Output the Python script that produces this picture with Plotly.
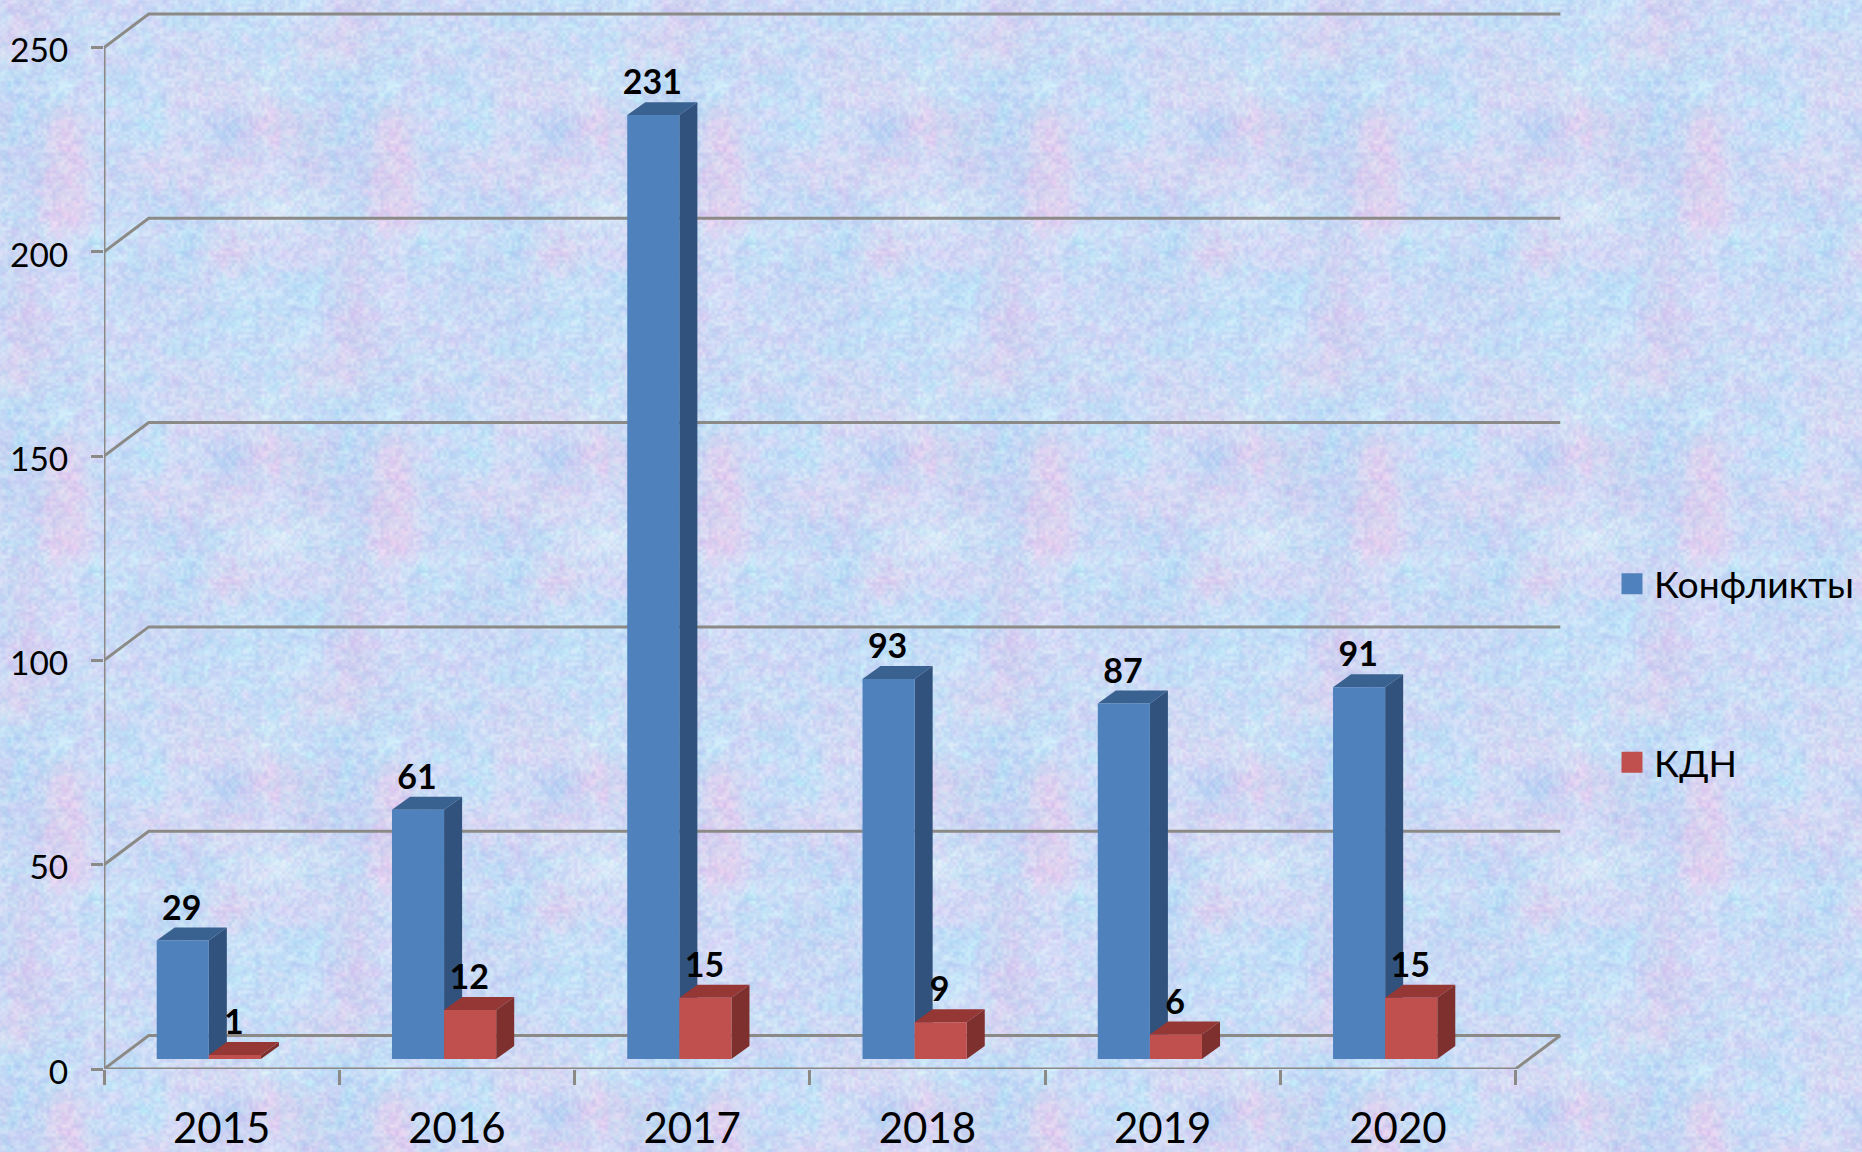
import base64
import struct
import zlib

import numpy as np
import plotly.graph_objects as go

years = ["2015", "2016", "2017", "2018", "2019", "2020"]
conflicts = [29, 61, 231, 93, 87, 91]
kdn = [1, 12, 15, 9, 6, 15]
y_ticks = [0, 50, 100, 150, 200, 250]

W, H = 1862, 1152
PLOT_L, PLOT_R, PLOT_T, PLOT_B = 103.8, 1564.0, 10.0, 1069.0
PX_CAT = 235.3
PX_UNIT = 4.086
GRID_DX, GRID_DY = 0.19, 8.2
BAR_DX, BAR_DY = 0.0766, 3.18
FLOOR = 2.45
BAR_W = 0.2215
BLUE_START = 0.224
GREY = "#8C8A86"
FONT = "Lato, 'Noto Sans', sans-serif"

# Pastel paper texture: colour grid read from one 328 px tile of the picture.
TILE_COLOURS = [
    "C6D2EE B0D4F4 E6C8EC C8DCF8 BEE4F8 CFDDF6 B4CCF2 E4CDEE",
    "C8D0F0 BFCFF2 E8C8EC CDD4F4 D4D4F2 D8D4F2 E0D0F0 D0DAF6",
    "D0E4F6 C0D8F4 F0C8EC C4DCF6 C8DCF6 BCD4F4 C8E0F6 D8EAF8",
    "CDD6F4 D0D4F2 D0DAF6 C0E6F8 C8DCF6 B8DCF6 E0CEEE D2DAF6",
    "B6E0F8 D2D0F0 D4DCF8 C8D8F6 C0D6F4 C6D8F4 C8E0F8 BEE0F8",
    "C0E0F8 DCC8EE D0D4F4 CCDAF6 C8DAF6 B8DCF6 BEDEF8 C6DCF6",
    "D4DCF2 D8D4F0 C0D4F4 D0D8F4 C8DCF6 CDD4F2 C8DCF6 C0DEF8",
    "B8E0F8 C0DAF6 C6E2F8 C0DCF6 C6E0F8 D6DAF2 D8D8F2 D4E4F6",
]


def upsample(grid, size):
    n = grid.shape[0]
    pos = (np.arange(size) + 0.5) / size * n - 0.5
    i0 = np.floor(pos).astype(int)
    t = pos - i0
    t = t * t * (3 - 2 * t)
    i1 = (i0 + 1) % n
    i0 = i0 % n
    a = grid[i0][:, i0] * (1 - t)[None, :, None] + grid[i0][:, i1] * t[None, :, None]
    b = grid[i1][:, i0] * (1 - t)[None, :, None] + grid[i1][:, i1] * t[None, :, None]
    return a * (1 - t)[:, None, None] + b * t[:, None, None]


def position_hash(n, seed):
    yy, xx = np.mgrid[0:n, 0:n]
    h = np.sin(xx * 12.9898 + yy * 78.233 + seed * 37.719) * 43758.5453
    return h - np.floor(h) - 0.5


def blotches(cells, size, seed):
    field = upsample(position_hash(cells, seed)[:, :, None], size)[:, :, 0]
    return field / field.std()


def build_tile(size=328):
    grid = np.array(
        [[[int(c[i:i + 2], 16) for i in (0, 2, 4)] for c in row.split()] for row in TILE_COLOURS],
        dtype=float,
    )
    img = upsample(grid, size)
    mean = img.mean(axis=(0, 1), keepdims=True)
    img = mean + np.array([2.0, 2.0, 1.0]) + 0.62 * (img - mean)
    # mottling in a few cell sizes: pink against cyan, and light against dark
    hue = blotches(26, size, 1) * 2.5 + blotches(60, size, 2) * 3.0
    light = blotches(45, size, 3) * 3.0 + blotches(110, size, 4) * 4.5
    img[:, :, 0] += hue + light
    img[:, :, 1] += -0.55 * hue + light
    img[:, :, 2] += 0.25 * light
    return np.clip(img, 0, 255).astype(np.uint8)


def png_uri(rgb):
    h, w, _ = rgb.shape
    raw = b"".join(b"\x00" + rgb[r].tobytes() for r in range(h))

    def chunk(tag, data):
        return struct.pack(">I", len(data)) + tag + data + struct.pack(">I", zlib.crc32(tag + data))

    blob = (
        b"\x89PNG\r\n\x1a\n"
        + chunk(b"IHDR", struct.pack(">IIBBBBB", w, h, 8, 2, 0, 0, 0))
        + chunk(b"IDAT", zlib.compress(raw, 9))
        + chunk(b"IEND", b"")
    )
    return "data:image/png;base64," + base64.b64encode(blob).decode()


tile = build_tile()
rows = (np.arange(H) - 108) % 328
cols = (np.arange(W) - 291) % 328
page = tile[rows][:, cols]


def polygons(values, start):
    """Front, side and top faces of the faux-3D columns, from the values."""
    front_x, front_y, side_x, side_y, top_x, top_y = [], [], [], [], [], []
    for i, v in enumerate(values):
        x0, x1 = i + start, i + start + BAR_W
        y0, y1 = FLOOR, FLOOR + v
        front_x += [x0, x1, x1, x0, x0, None]
        front_y += [y0, y0, y1, y1, y0, None]
        side_x += [x1, x1 + BAR_DX, x1 + BAR_DX, x1, x1, None]
        side_y += [y0, y0 + BAR_DY, y1 + BAR_DY, y1, y0, None]
        top_x += [x0, x1, x1 + BAR_DX, x0 + BAR_DX, x0, None]
        top_y += [y1, y1, y1 + BAR_DY, y1 + BAR_DY, y1, None]
    return (front_x, front_y), (side_x, side_y), (top_x, top_y)


def face(xy, colour):
    return go.Scatter(
        x=xy[0], y=xy[1], mode="lines", fill="toself", fillcolor=colour,
        line=dict(width=0, color=colour), showlegend=False, hoverinfo="skip",
    )


fig = go.Figure()

# back wall gridlines, floor and value axis line
grid_x, grid_y = [], []
n_cat = len(years)
for v in y_ticks:
    grid_x += [0, GRID_DX, n_cat + GRID_DX, None]
    grid_y += [v, v + GRID_DY, v + GRID_DY, None]
grid_x += [0, 0, None, 0, n_cat, n_cat + GRID_DX]
grid_y += [y_ticks[0], y_ticks[-1], None, 0, 0, GRID_DY]
fig.add_trace(go.Scatter(
    x=grid_x, y=grid_y, mode="lines", line=dict(color=GREY, width=3),
    showlegend=False, hoverinfo="skip", cliponaxis=False,
))

for values, start, colours in (
    (conflicts, BLUE_START, ("#4F81BD", "#31527C", "#3A6291")),
    (kdn, BLUE_START + BAR_W, ("#C0504D", "#7E302E", "#943735")),
):
    front, side, top = polygons(values, start)
    fig.add_trace(face(side, colours[1]))
    fig.add_trace(face(top, colours[2]))
    fig.add_trace(face(front, colours[0]))

# data labels
for values, start in ((conflicts, BLUE_START), (kdn, BLUE_START + BAR_W)):
    fig.add_trace(go.Scatter(
        x=[i + start + BAR_W / 2 - 0.004 for i in range(n_cat)],
        y=[FLOOR + v + 7.2 for v in values],
        mode="text", text=[str(v) for v in values], textposition="middle center",
        textfont=dict(family=FONT, size=34, color="black", weight="bold"),
        showlegend=False, hoverinfo="skip", cliponaxis=False,
    ))

# legend entries
for name, colour in (("Конфликты", "#4F81BD"), ("КДН", "#C0504D")):
    fig.add_trace(go.Scatter(
        x=[None], y=[None], mode="markers", name=name, legendgroup=name,
        marker=dict(symbol="square", size=16, color=colour, line=dict(color=colour, width=5)),
    ))

plot_w = W - PLOT_L - (W - PLOT_R)
plot_h = PLOT_B - PLOT_T

fig.update_layout(
    width=W, height=H, autosize=False,
    margin=dict(l=PLOT_L, r=W - PLOT_R, t=PLOT_T, b=H - PLOT_B, pad=0, autoexpand=False),
    paper_bgcolor="#C8DCF6", plot_bgcolor="rgba(0,0,0,0)",
    font=dict(family=FONT, color="black"),
    images=[dict(
        source=png_uri(page), xref="paper", yref="paper",
        x=-PLOT_L / plot_w, y=1 + PLOT_T / plot_h,
        sizex=W / plot_w, sizey=H / plot_h,
        xanchor="left", yanchor="top", sizing="stretch", layer="below",
    )],
    xaxis=dict(
        range=[0, plot_w / PX_CAT], showgrid=False, zeroline=False, showline=False,
        tickmode="array", tickvals=[i + 0.5 for i in range(n_cat)], ticktext=years,
        ticks="", ticklabelstandoff=31, tickfont=dict(family=FONT, size=42, color="black"),
        minor=dict(tickmode="array", tickvals=list(range(n_cat + 1)), ticks="outside",
                   ticklen=15, tickwidth=3, tickcolor=GREY, showgrid=False),
    ),
    yaxis=dict(
        range=[0, plot_h / PX_UNIT], showgrid=False, zeroline=False, showline=False,
        tickmode="array", tickvals=y_ticks, ticks="outside", ticklen=12, tickwidth=3,
        tickcolor=GREY, ticklabelstandoff=16, ticklabelshift=3,
        tickfont=dict(family=FONT, size=33.5, color="black"),
    ),
    legend=dict(
        x=(1610 - PLOT_L) / plot_w, y=1 - (553 - PLOT_T) / plot_h, xanchor="left", yanchor="top",
        bgcolor="rgba(0,0,0,0)", borderwidth=0, tracegroupgap=127, itemwidth=34,
        font=dict(family=FONT, size=37.3, color="black"), itemclick=False, itemdoubleclick=False,
    ),
)

fig.write_html(
    "out.html",
    config=dict(displayModeBar=False),
    post_script="document.body.style.margin='0';document.body.style.overflow='hidden';",
)
